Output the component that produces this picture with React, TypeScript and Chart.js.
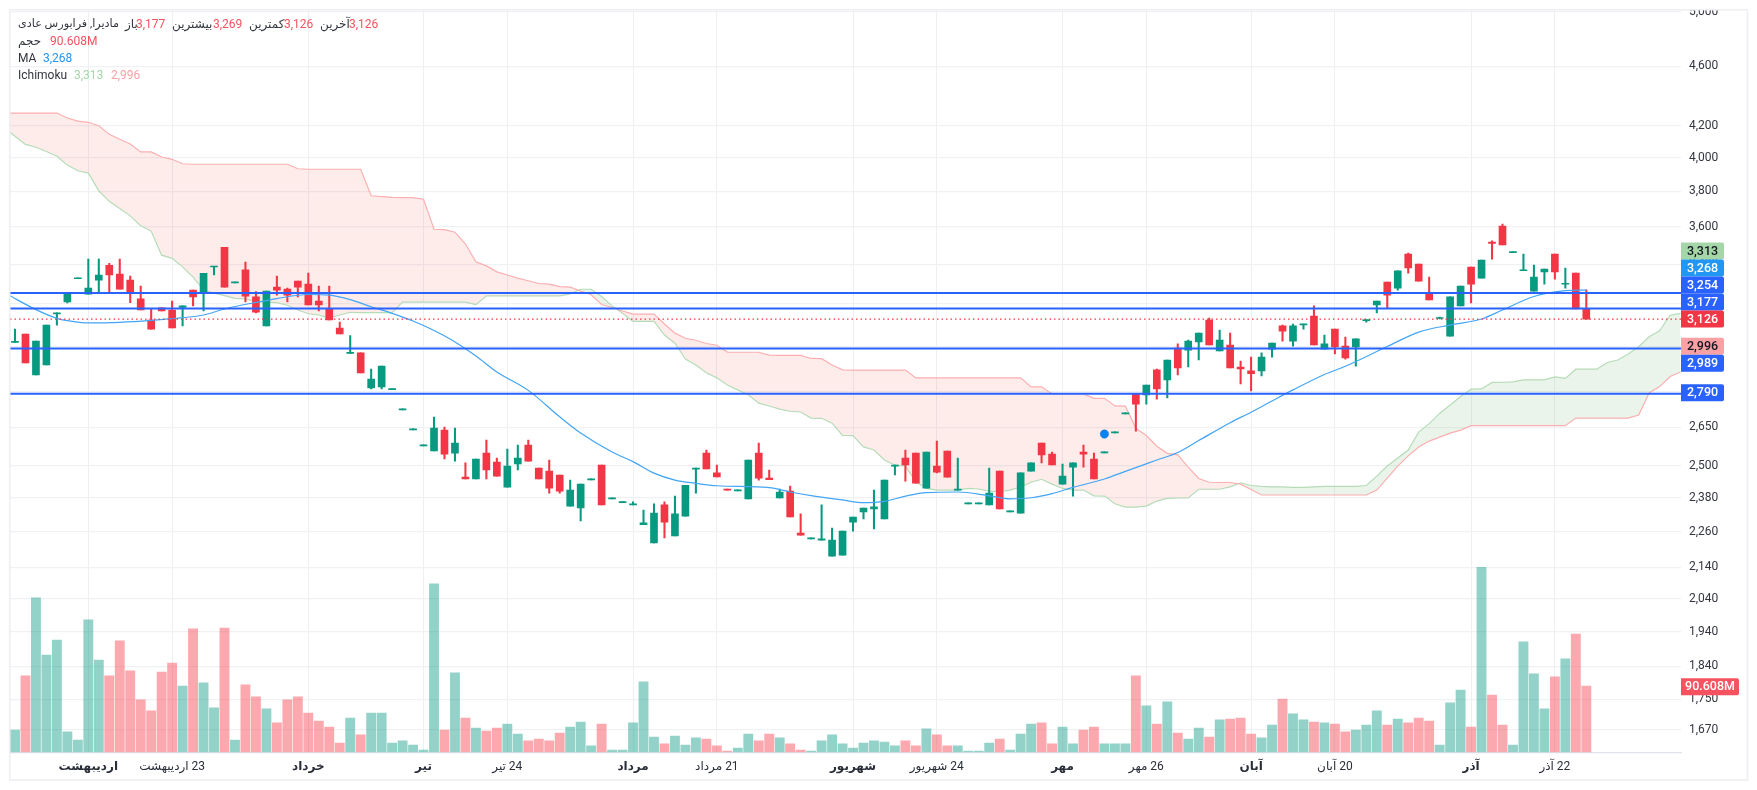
import React, { useEffect, useRef } from "react";
import { Chart, registerables } from "chart.js";

Chart.register(...registerables);

const opens = [
  3017,3056,2871,2915,3151,3209,3325,3248,3318,3394,
  3349,3318,3224,3122,3180,3170,3182,3268,3260,3385,
  3488,3304,3370,3234,3094,3283,3273,3313,3298,3214,
  3175,3084,2967,2969,2815,2819,2807,2722,2640,2576,
  2556,2639,2548,2456,2449,2548,2513,2419,2506,2579,
  2490,2479,2464,2350,2343,2446,2502,2376,2362,2354,
  2284,2221,2354,2245,2314,2486,2548,2472,2412,2405,
  2376,2548,2453,2379,2404,2255,2235,2231,2177,2180,
  2293,2329,2340,2304,2498,2529,2548,2415,2498,2556,
  2408,2358,2358,2354,2479,2329,2325,2479,2587,2544,
  2430,2494,2552,2525,2549,2628,2705,2789,2785,2893,
  2849,2991,2982,3019,3122,2978,3005,2906,2889,2889,
  2986,3094,3023,3099,3141,2986,3079,3000,2996,3119,
  3195,3308,3278,3453,3400,3253,3129,3046,3190,3385,
  3328,3516,3604,3460,3366,3263,3360,3453,3297,3354,
  3177,
];
const highs = [
  3079,3056,3023,3098,3156,3248,3329,3426,3426,3404,
  3426,3338,3288,3175,3180,3214,3190,3268,3353,3389,
  3488,3308,3411,3260,3263,3338,3278,3313,3354,3288,
  3288,3112,3049,2969,2897,2910,2811,2726,2644,2580,
  2692,2651,2647,2510,2525,2599,2529,2564,2579,2599,
  2490,2521,2464,2445,2430,2450,2502,2380,2366,2365,
  2336,2358,2365,2386,2426,2490,2560,2502,2412,2409,
  2521,2587,2483,2412,2423,2322,2239,2354,2272,2262,
  2311,2343,2408,2445,2502,2560,2548,2552,2595,2556,
  2529,2362,2362,2490,2479,2333,2472,2510,2587,2552,
  2506,2510,2579,2548,2553,2632,2709,2789,2827,2897,
  2937,3010,3028,3060,3131,3074,3060,2932,2950,2969,
  3014,3098,3103,3103,3190,3051,3079,3042,3033,3123,
  3214,3308,3365,3458,3400,3333,3136,3234,3288,3385,
  3421,3523,3615,3464,3453,3395,3375,3453,3380,3354,
  3269,
];
const lows = [
  3017,2924,2871,2915,3098,3204,3325,3248,3255,3260,
  3273,3206,3170,3079,3165,3084,3094,3190,3165,3344,
  3283,3304,3209,3156,3094,3243,3209,3234,3195,3165,
  3122,3056,2967,2880,2810,2810,2807,2722,2640,2576,
  2556,2525,2517,2449,2449,2449,2460,2419,2483,2517,
  2449,2397,2397,2350,2297,2446,2354,2376,2362,2354,
  2284,2221,2238,2245,2314,2397,2487,2457,2408,2405,
  2376,2445,2447,2379,2311,2248,2235,2231,2177,2180,
  2262,2304,2269,2304,2464,2441,2434,2415,2472,2456,
  2408,2358,2358,2354,2340,2329,2325,2479,2510,2502,
  2430,2386,2494,2449,2549,2628,2705,2635,2746,2767,
  2772,2871,2906,2937,3005,2978,2902,2832,2802,2867,
  2950,3023,3000,3079,3005,2986,2964,2941,2910,3112,
  3156,3180,3268,3354,3313,3219,3127,3046,3190,3204,
  3328,3426,3501,3460,3366,3263,3298,3323,3278,3175,
  3126,
];
const closes = [
  3021,2924,3023,3098,3156,3248,3329,3278,3343,3344,
  3273,3258,3170,3079,3165,3084,3190,3234,3353,3389,
  3283,3308,3238,3160,3263,3268,3243,3283,3195,3195,
  3122,3056,2971,2880,2853,2910,2811,2726,2644,2580,
  2647,2544,2587,2449,2525,2483,2460,2498,2529,2517,
  2449,2415,2404,2408,2430,2450,2354,2380,2366,2358,
  2291,2325,2293,2322,2426,2490,2487,2457,2408,2409,
  2521,2452,2447,2401,2311,2248,2239,2235,2231,2262,
  2311,2343,2347,2445,2502,2502,2434,2552,2475,2456,
  2412,2362,2362,2397,2340,2333,2472,2510,2541,2502,
  2460,2510,2544,2449,2553,2632,2709,2746,2827,2810,
  2937,2902,3023,3060,3005,3028,2902,2897,2876,2950,
  3014,3069,3094,3103,3005,3010,2996,2946,3033,3123,
  3214,3243,3365,3380,3313,3219,3133,3234,3288,3298,
  3421,3509,3501,3464,3370,3333,3375,3360,3301,3175,
  3126,
];
const volumesM = [
  30.5,104.3,210.8,132.9,153.4,27.8,16.8,180.8,126.1,104.3,
  152.1,111.1,71.5,56.5,109.7,122.0,90.6,168.5,94.7,60.6,
  169.8,16.8,92.0,75.6,59.2,40.1,71.5,75.6,53.7,42.8,
  34.6,12.7,46.9,23.7,53.7,53.7,12.7,15.5,10.0,3.2,
  229.9,30.5,108.4,46.9,33.2,29.1,33.2,38.7,25.0,15.5,
  18.2,15.5,26.4,34.6,41.4,8.7,38.7,3.2,3.2,40.1,
  96.1,20.9,11.4,22.3,10.0,19.6,18.2,8.7,1.8,5.9,
  25.0,15.5,25.0,19.6,11.4,3.2,1.8,15.5,23.7,11.4,
  5.9,12.7,15.5,14.1,8.7,15.5,8.7,31.9,23.7,8.7,
  8.7,1.8,1.8,12.7,18.2,3.2,25.0,38.7,40.1,11.4,
  34.6,11.4,30.5,34.6,11.4,11.4,11.4,104.3,63.3,38.7,
  68.8,26.4,18.2,33.2,20.9,44.2,45.5,46.9,25.0,19.6,
  37.3,72.8,52.4,44.2,41.4,40.1,38.7,27.8,30.5,37.3,
  56.5,37.3,45.5,40.1,46.9,42.8,10.0,67.4,85.1,34.6,
  252.7,78.3,37.3,10.0,150.7,107.0,59.2,102.9,127.5,161.6,
  90.6,
];
// Ichimoku cloud: first value sits one session before the first candle.
const spanA = [
  4185,
  4133,4082,4064,4038,4009,3955,3921,3907,3803,3742,
  3702,3660,3605,3576,3447,3430,3386,3333,3268,3252,
  3240,3227,3224,3211,3208,3206,3193,3170,3152,3146,
  3132,3146,3159,3157,3157,3157,3157,3208,3208,3208,
  3208,3208,3208,3208,3196,3239,3239,3239,3239,3239,
  3239,3239,3239,3249,3272,3272,3236,3190,3154,3115,
  3115,3115,3051,3013,2941,2915,2880,2858,2827,2806,
  2785,2750,2738,2725,2716,2713,2688,2687,2667,2618,
  2617,2572,2560,2521,2502,2498,2439,2414,2408,2408,
  2408,2414,2412,2404,2402,2408,2420,2437,2448,2430,
  2414,2408,2408,2387,2386,2358,2346,2346,2350,2368,
  2378,2379,2379,2411,2411,2411,2420,2435,2425,2422,
  2420,2420,2418,2418,2420,2422,2422,2422,2422,2425,
  2460,2498,2529,2560,2631,2665,2707,2742,2778,2809,
  2810,2838,2839,2841,2849,2849,2849,2862,2856,2896,
  2896,2896,2926,2937,2964,2997,3043,3071,3145,3154,
];
const spanB = [
  4282,
  4282,4282,4282,4282,4282,4250,4230,4222,4200,4145,
  4114,4084,4035,4035,4004,3990,3963,3960,3960,3960,
  3960,3960,3960,3960,3960,3960,3960,3933,3930,3930,
  3930,3930,3930,3930,3774,3769,3765,3763,3763,3754,
  3586,3584,3570,3506,3412,3391,3360,3344,3328,3315,
  3301,3298,3285,3283,3263,3245,3197,3182,3165,3150,
  3150,3150,3103,3060,3036,3027,3012,3004,2973,2972,
  2972,2972,2959,2958,2958,2958,2944,2943,2915,2893,
  2892,2892,2892,2892,2892,2892,2858,2858,2858,2858,
  2858,2858,2858,2858,2858,2858,2858,2819,2819,2789,
  2789,2789,2789,2770,2770,2738,2737,2646,2617,2575,
  2547,2541,2494,2451,2437,2436,2436,2430,2410,2390,
  2390,2390,2390,2390,2390,2390,2390,2390,2390,2390,
  2408,2452,2498,2537,2572,2595,2611,2627,2639,2657,
  2657,2657,2657,2657,2657,2657,2657,2657,2657,2688,
  2688,2688,2688,2688,2688,2700,2793,2820,2864,2884,
];
const maIndex = [
  -1,0,2,4,5,7,10,13,16,18,20,23,25,28,30,32,34,36,38,40,42,44,46,49,52,54,57,59,61,63,65,67,
  72,74,76,79,81,83,85,87,90,93,95,97,99,101,104,106,109,111,113,116,118,120,122,125,127,131,
  134,137,140,142,145,148,150,
];
const maValues = [
  3256,3226,3172,3130,3119,3108,3111,3120,3133,3146,3175,3207,3226,3246,3243,3221,3186,3154,3117,3072,3019,2955,2884,2804,2693,2627,2552,2515,2471,2445,2433,2424,
  2417,2401,2388,2372,2362,2367,2386,2399,2401,2387,2376,2380,2395,2418,2449,2478,2521,2550,2597,2669,2712,2759,2806,2873,2909,2998,
  3065,3098,3127,3170,3236,3265,3268,
];
const levelLines = [3254, 3177, 2989, 2790];
const lastClose = 3126;
const markerIndex = [104];
const markerPrice = [2623];
const priceTicks = [5000,4600,4200,4000,3800,3600,3400,3200,3000,2800,2650,2500,2380,2260,2140,2040,1940,1840,1750,1670];
const timeTickIndex = [7,15,28,39,47,59,67,80,88,100,108,118,126,139,147];
const timeTickLabels = ["اردیبهشت","23 اردیبهشت","خرداد","تیر","24 تیر","مرداد","21 مرداد","شهریور","24 شهریور","مهر","26 مهر","آبان","20 آبان","آذر","22 آذر"];
const timeTickBold = [true,false,true,true,false,true,false,true,false,true,false,true,false,true,false];
const priceTags = [
  { text: "3,313", bg: "#a5d6a7", fg: "#131722", y: 251 },
  { text: "3,268", bg: "#2196f3", fg: "#ffffff", y: 268 },
  { text: "3,254", bg: "#2962ff", fg: "#ffffff", y: 285 },
  { text: "3,177", bg: "#2962ff", fg: "#ffffff", y: 302 },
  { text: "3,126", bg: "#f23645", fg: "#ffffff", y: 319 },
  { text: "2,996", bg: "#faa1a4", fg: "#131722", y: 346.3 },
  { text: "2,989", bg: "#2962ff", fg: "#ffffff", y: 363.3 },
  { text: "2,790", bg: "#2962ff", fg: "#ffffff", y: 392.7 },
];

const GREEN = "#089981";
const RED = "#f23645";
const AX_MIN = -0.477;
const AX_MAX = 159.04;
const FONT = "Roboto, 'Noto Sans', 'DejaVu Sans', sans-serif";

const xs = opens.map((_, i) => i);
const isUp = (i: number) => closes[i] >= opens[i];

const framePlugin = {
  id: "frame",
  afterDraw(chart: any) {
    const ctx = chart.ctx;
    const area = chart.chartArea;
    ctx.save();
    ctx.clearRect(0, 0, 1757, 10);
    ctx.strokeStyle = "#eeeef3";
    ctx.lineWidth = 1.6;
    ctx.strokeRect(9.7, 9.7, 1737.8, 770.4);
    ctx.textBaseline = "middle";
    ctx.textAlign = "center";
    ctx.font = `500 12.5px ${FONT}`;
    const w = 43;
    for (const t of priceTags) {
      ctx.fillStyle = t.bg;
      ctx.beginPath();
      ctx.roundRect(area.right, t.y - 8.5, w, 17, [0, 2, 2, 0]);
      ctx.fill();
      ctx.fillStyle = t.fg;
      ctx.fillText(t.text, area.right + w / 2, t.y + 0.5);
    }
    ctx.fillStyle = "#f7525f";
    ctx.beginPath();
    ctx.roundRect(area.right, 678.2, 58, 17, [0, 2, 2, 0]);
    ctx.fill();
    ctx.fillStyle = "#ffffff";
    ctx.fillText("90.608M", area.right + 29, 687.2);
    ctx.restore();
  },
};

const L = { position: "absolute" as const, whiteSpace: "nowrap" as const };
const INK = "#333640";
const VAL = "#f7525f";
const rows: { x: number; y: number; text: string; color: string; size?: number }[] = [
  { x: 18, y: 24, text: "مادیرا, فرابورس عادی", color: INK, size: 11.2 },
  { x: 125, y: 24, text: "باز", color: INK },
  { x: 136, y: 24, text: "3,177", color: VAL },
  { x: 172, y: 24, text: "بیشترین", color: INK },
  { x: 213, y: 24, text: "3,269", color: VAL },
  { x: 249, y: 24, text: "کمترین", color: INK },
  { x: 284, y: 24, text: "3,126", color: VAL },
  { x: 320, y: 24, text: "آخرین", color: INK },
  { x: 349, y: 24, text: "3,126", color: VAL },
  { x: 18, y: 41, text: "حجم", color: INK },
  { x: 50, y: 41, text: "90.608M", color: VAL },
  { x: 18, y: 58, text: "MA", color: INK },
  { x: 43, y: 58, text: "3,268", color: "#2196f3" },
  { x: 18, y: 75, text: "Ichimoku", color: INK },
  { x: 74, y: 75, text: "3,313", color: "#a5d6a7" },
  { x: 111, y: 75, text: "2,996", color: "#faa1a4" },
];

export default function App() {
  const ref = useRef<HTMLCanvasElement | null>(null);
  useEffect(() => {
    if (!ref.current) return;
    const lineAt = (v: number) => [
      { x: AX_MIN, y: v },
      { x: AX_MAX, y: v },
    ];
    const chart = new Chart(ref.current, {
      type: "bar",
      data: {
        datasets: [
          {
            type: "bar",
            label: "Volume",
            yAxisID: "v",
            data: xs.map((i) => ({ x: i, y: volumesM[i] })),
            backgroundColor: xs.map((i) => (isUp(i) ? "rgba(8,153,129,0.44)" : "rgba(247,82,95,0.5)")),
            barThickness: 9.2,
            grouped: false,
            order: 8,
          },
          {
            type: "line",
            label: "Ichimoku A",
            yAxisID: "y",
            data: spanA.map((v, i) => ({ x: i - 1, y: v })),
            borderColor: "#b5dcb7",
            borderWidth: 1.2,
            pointRadius: 0,
            fill: { target: "+1", above: "rgba(67,160,71,0.115)", below: "rgba(244,67,54,0.1)" },
            order: 7,
          },
          {
            type: "line",
            label: "Ichimoku B",
            yAxisID: "y",
            data: spanB.map((v, i) => ({ x: i - 1, y: v })),
            borderColor: "#fbafb1",
            borderWidth: 1.2,
            pointRadius: 0,
            fill: false,
            order: 6,
          },
          {
            type: "bar",
            label: "Wick",
            yAxisID: "y",
            data: xs.map((i) => ({ x: i, y: [lows[i], highs[i]] })),
            backgroundColor: xs.map((i) => (isUp(i) ? GREEN : RED)),
            barThickness: 1.4,
            grouped: false,
            order: 5,
          },
          {
            type: "bar",
            label: "Body",
            yAxisID: "y",
            data: xs.map((i) => ({ x: i, y: [opens[i], closes[i]] })),
            backgroundColor: xs.map((i) => (isUp(i) ? GREEN : RED)),
            barThickness: 7,
            grouped: false,
            minBarLength: 1,
            order: 4,
          },
          {
            type: "line",
            label: "MA",
            yAxisID: "y",
            data: maIndex.map((x, i) => ({ x, y: maValues[i] })),
            borderColor: "#42a5f5",
            borderWidth: 1.2,
            pointRadius: 0,
            cubicInterpolationMode: "monotone",
            order: 3,
          },
          {
            type: "line",
            label: "Last",
            yAxisID: "y",
            data: lineAt(lastClose),
            borderColor: RED,
            borderWidth: 1.2,
            borderDash: [1.5, 3],
            pointRadius: 0,
            order: 2,
          },
          ...levelLines.map((v) => ({
            type: "line" as const,
            label: `Level ${v}`,
            yAxisID: "y",
            data: lineAt(v),
            borderColor: "#2962ff",
            borderWidth: 2,
            pointRadius: 0,
            order: 1,
          })),
          {
            type: "line",
            label: "Marker",
            yAxisID: "y",
            data: markerIndex.map((x, i) => ({ x, y: markerPrice[i] })),
            showLine: false,
            pointRadius: 4.2,
            pointBackgroundColor: "#0a84f0",
            pointBorderColor: "rgba(0,90,190,0.35)",
            pointBorderWidth: 1,
            order: 0,
          },
        ] as any,
      },
      options: {
        responsive: false,
        animation: false,
        events: [],
        layout: { padding: { left: 10, top: 10.5, right: 11, bottom: 10.7 } },
        plugins: { legend: { display: false }, tooltip: { enabled: false } },
        scales: {
          x: {
            type: "linear",
            min: AX_MIN,
            max: AX_MAX,
            bounds: "data",
            offset: false,
            afterBuildTicks(scale: any) {
              scale.ticks = timeTickIndex.map((value) => ({ value }));
            },
            afterFit(scale: any) {
              scale.height = 27;
              scale.paddingLeft = 0;
              scale.paddingRight = 0;
            },
            grid: { offset: false, color: "rgba(20,30,60,0.07)", lineWidth: 1, drawTicks: false },
            border: { color: "#e0e3eb", width: 1.2 },
            ticks: {
              autoSkip: false,
              maxRotation: 0,
              minRotation: 0,
              padding: 7,
              color: "#2a2e39",
              font: (c: any) => ({
                family: FONT,
                size: 12,
                weight: timeTickBold[timeTickIndex.indexOf(c.tick?.value)] ? "700" : "400",
              }),
              callback: (v: any) => timeTickLabels[timeTickIndex.indexOf(Number(v))] ?? "",
            },
          },
          y: {
            type: "logarithmic",
            position: "right",
            min: 1613.6,
            max: 5007.8,
            bounds: "data",
            afterBuildTicks(scale: any) {
              scale.ticks = priceTicks.map((value) => ({ value }));
            },
            afterFit(scale: any) {
              scale.width = 65;
              scale.paddingTop = 0;
              scale.paddingBottom = 0;
            },
            grid: { color: "#f0f1f4", lineWidth: 1.2, drawTicks: false },
            border: { display: false },
            ticks: {
              autoSkip: false,
              padding: 8,
              color: "#333640",
              font: { family: FONT, size: 12 },
              callback: (v: any) => Number(v).toLocaleString("en-US"),
            },
          },
          v: {
            type: "linear",
            display: false,
            min: 0,
            max: 1013,
          },
        },
      } as any,
      plugins: [framePlugin],
    });
    return () => chart.destroy();
  }, []);
  return (
    <div style={{ position: "absolute", left: 0, top: 0, width: 1757, height: 790, background: "#fff" }}>
      <canvas ref={ref} width={1757} height={790} style={{ display: "block", direction: "rtl" }} />
      {rows.map((r, i) => (
        <span
          key={i}
          style={{
            ...L,
            left: r.x,
            top: r.y - 8,
            lineHeight: "16px",
            fontFamily: FONT,
            fontSize: r.size ?? 12,
            color: r.color,
          }}
        >
          {r.text}
        </span>
      ))}
    </div>
  );
}
